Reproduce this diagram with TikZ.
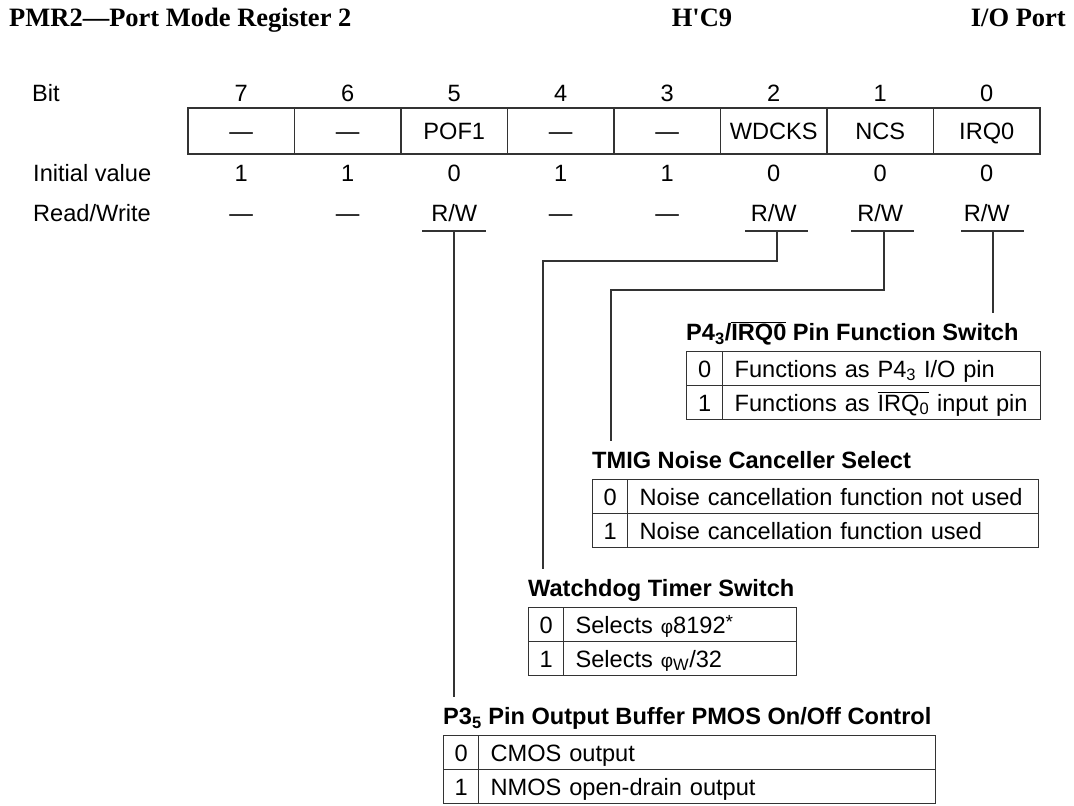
\documentclass[tikz,border=0pt]{standalone}
\usepackage{fontspec}
\setmainfont{Liberation Sans}
\newfontfamily\hfont{Liberation Serif}[Ligatures=TeXOff]
\newcommand\ovl[1]{\leavevmode\vbox{\hrule height 1.1pt\kern 1.4pt\hbox{#1}}}
\newcommand\RW{R/W}
\newcommand\phisym{{\fontsize{19}{20}\selectfont φ}}
\newcommand\astsup{\raisebox{5pt}{\fontsize{19}{20}\selectfont *}}
\begin{document}
\begin{tikzpicture}[x=1pt,y=-1pt,
  every node/.style={inner sep=0pt,font=\fontsize{23.6}{28}\selectfont},
  lbl/.style={anchor=base},
  cell/.style={draw=black!80,line width=1.2pt,minimum width=106.5pt,minimum height=46pt,text height=17pt,text depth=0pt},
  ncell/.style={draw=black!80,line width=1.2pt,anchor=north west,minimum height=34pt,text height=17pt,text depth=0pt},
  tcell/.style={ncell,inner xsep=12pt,align=left},
  ttl/.style={anchor=base west,font=\fontsize{23.6}{28}\selectfont\bfseries},
  hdr/.style={anchor=base,font=\fontsize{26.5}{30}\selectfont\hfont\bfseries},
  conn/.style={draw=black!80,line width=1.2pt}]
\useasboundingbox[fill=white] (0,0) rectangle (1074,806);
% header
\node[hdr,anchor=base west] (title) at (9,26) {PMR2—Port Mode Register 2};
\node[hdr] (addr) at (702,26) {H'C9};
\node[hdr,anchor=base east] (mod) at (1066,26) {I/O Port};
% row labels
\node[lbl,anchor=base west] (lbit) at (32,101) {Bit};
\node[lbl,anchor=base west] (lini) at (33,181.5) {Initial value};
\node[lbl,anchor=base west] (lrw) at (33,221.5) {Read/Write};
% register
\foreach \b/\lab/\ini/\rw in {7/—/1/—,6/—/1/—,5/POF1/0/\RW,4/—/1/—,3/—/1/—,2/WDCKS/0/\RW,1/NCS/0/\RW,0/IRQ0/0/\RW}{
  \pgfmathsetmacro\cx{188+106.5*(7-\b)+53.25}
  \node[lbl] (bit\b) at (\cx,101) {\b};
  \node[cell] (reg\b) at (\cx,131) {\lab};
  \node[lbl] (ini\b) at (\cx,181.5) {\ini};
  \node[lbl] (rw\b) at (\cx,221.5) {\rw};
}
% underlines and connectors
\coordinate (u5) at (454,231); \coordinate (u5l) at (422,231); \coordinate (u5r) at (486,231);
\coordinate (u2) at (777,231); \coordinate (u2l) at (745,231); \coordinate (u2r) at (808,231);
\coordinate (u1) at (884,231); \coordinate (u1l) at (851,231); \coordinate (u1r) at (914,231);
\coordinate (u0) at (993,231); \coordinate (u0l) at (961,231); \coordinate (u0r) at (1024,231);
\foreach \i in {5,2,1,0}{\draw[conn] (u\i l) -- (u\i r);}
\coordinate (j2) at (543,261); \coordinate (e2) at (543,569);
\coordinate (j1) at (611,290); \coordinate (e1) at (611,441);
\coordinate (e0) at (993,313);
\coordinate (e5) at (454,697);
\draw[conn] (u0) -- (e0);
\draw[conn] (u1) |- (j1) -- (e1);
\draw[conn] (u2) |- (j2) -- (e2);
\draw[conn] (u5) -- (e5);
% IRQ0 table
\node[ttl] (tirq) at (686,340.5) {P4\textsubscript{3}/\ovl{IRQ0} Pin Function Switch};
\node[ncell,minimum width=36pt] (irq0n) at (686,351) {0};
\node[tcell,text width=294pt] (irq0t) at (722,351) {Functions as P4\textsubscript{3} I/O pin};
\node[ncell,minimum width=36pt] (irq1n) at (686,385) {1};
\node[tcell,text width=294pt] (irq1t) at (722,385) {Functions as \ovl{IRQ\textsubscript{0}} input pin};
% TMIG table
\node[ttl] (ttmig) at (592,468.5) {TMIG Noise Canceller Select};
\node[ncell,minimum width=35pt] (nc0n) at (592,479) {0};
\node[tcell,text width=387pt] (nc0t) at (627,479) {Noise cancellation function not used};
\node[ncell,minimum width=35pt] (nc1n) at (592,513) {1};
\node[tcell,text width=387pt] (nc1t) at (627,513) {Noise cancellation function used};
% Watchdog table
\node[ttl] (twd) at (528,596.5) {Watchdog Timer Switch};
\node[ncell,minimum width=35pt] (wd0n) at (528,607) {0};
\node[tcell,text width=209pt] (wd0t) at (563,607) {Selects \phisym8192\astsup};
\node[ncell,minimum width=35pt] (wd1n) at (528,641) {1};
\node[tcell,text width=209pt] (wd1t) at (563,641) {Selects \phisym\textsubscript{W}/32};
% P3 table
\node[ttl] (tp3) at (443,724.5) {P3\textsubscript{5} Pin Output Buffer PMOS On/Off Control};
\node[ncell,minimum width=35pt] (p30n) at (443,735) {0};
\node[tcell,text width=433pt] (p30t) at (478,735) {CMOS output};
\node[ncell,minimum width=35pt] (p31n) at (443,769) {1};
\node[tcell,text width=433pt] (p31t) at (478,769) {NMOS open-drain output};
\end{tikzpicture}
\end{document}
